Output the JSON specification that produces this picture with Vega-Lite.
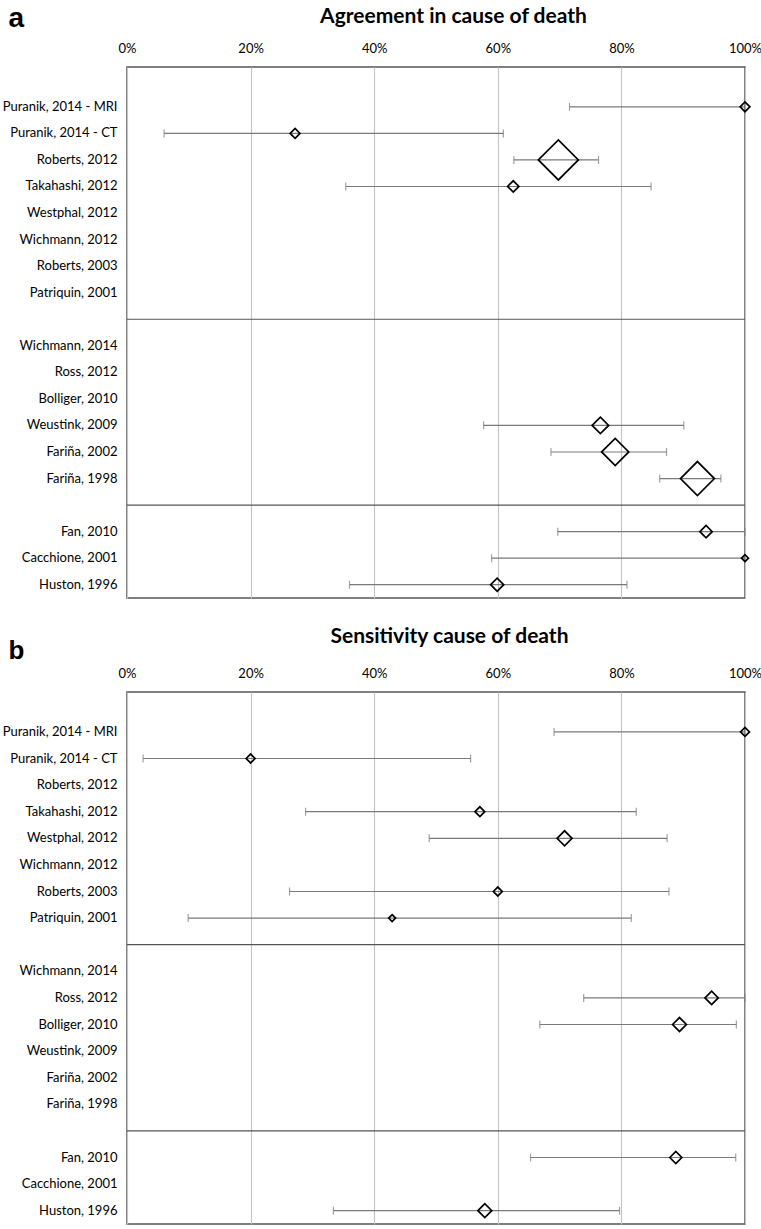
{
  "$schema": "https://vega.github.io/schema/vega-lite/v6.json",
  "padding": {"left": 0, "top": 3, "right": 0, "bottom": 0},
  "spacing": 25,
  "background": "white",
  "config": {
    "font": "Lato",
    "view": {"stroke": "#555", "strokeWidth": 1.5},
    "axis": {"labelFont": "Lato", "labelFontSize": 13, "labelColor": "#000", "domain": false, "ticks": false, "titleColor": "#000"},
    "axisX": {"labelFontSize": 13, "labelFlush": false, "labelPadding": 12, "grid": true, "gridColor": "#c4c4c4", "gridWidth": 1.1, "titleFontSize": 21, "titleFontWeight": "bold", "titleAlign": "center", "titleBaseline": "alphabetic", "labelExpr": "datum.value + '%'"}
  },
  "datasets": {
    "studies": [
      {"panel": "a", "study": "Puranik, 2014 - MRI", "est": 100, "lo": 71.6, "hi": 100, "weight": 6},
      {"panel": "a", "study": "Puranik, 2014 - CT", "est": 27.2, "lo": 6.0, "hi": 60.9, "weight": 6},
      {"panel": "a", "study": "Roberts, 2012", "est": 69.8, "lo": 62.6, "hi": 76.3, "weight": 100},
      {"panel": "a", "study": "Takahashi, 2012", "est": 62.5, "lo": 35.4, "hi": 84.8, "weight": 8},
      {"panel": "a", "study": "Weustink, 2009", "est": 76.6, "lo": 57.7, "hi": 90.1, "weight": 17},
      {"panel": "a", "study": "Fariña, 2002", "est": 79.0, "lo": 68.6, "hi": 87.3, "weight": 46},
      {"panel": "a", "study": "Fariña, 1998", "est": 92.3, "lo": 86.2, "hi": 96.1, "weight": 72},
      {"panel": "a", "study": "Fan, 2010", "est": 93.7, "lo": 69.7, "hi": 100, "weight": 9.5},
      {"panel": "a", "study": "Cacchione, 2001", "est": 100, "lo": 59.0, "hi": 100, "weight": 3},
      {"panel": "a", "study": "Huston, 1996", "est": 59.9, "lo": 36.0, "hi": 80.9, "weight": 10.6},
      {"panel": "b", "study": "Puranik, 2014 - MRI", "est": 100, "lo": 69.1, "hi": 100, "weight": 5},
      {"panel": "b", "study": "Puranik, 2014 - CT", "est": 20.0, "lo": 2.6, "hi": 55.6, "weight": 5},
      {"panel": "b", "study": "Takahashi, 2012", "est": 57.1, "lo": 28.9, "hi": 82.4, "weight": 6},
      {"panel": "b", "study": "Westphal, 2012", "est": 70.8, "lo": 48.9, "hi": 87.4, "weight": 14},
      {"panel": "b", "study": "Roberts, 2003", "est": 60.0, "lo": 26.3, "hi": 87.7, "weight": 5},
      {"panel": "b", "study": "Patriquin, 2001", "est": 42.9, "lo": 9.9, "hi": 81.6, "weight": 3},
      {"panel": "b", "study": "Ross, 2012", "est": 94.6, "lo": 73.9, "hi": 100, "weight": 11},
      {"panel": "b", "study": "Bolliger, 2010", "est": 89.4, "lo": 66.8, "hi": 98.6, "weight": 12},
      {"panel": "b", "study": "Fan, 2010", "est": 88.8, "lo": 65.3, "hi": 98.5, "weight": 9},
      {"panel": "b", "study": "Huston, 1996", "est": 57.9, "lo": 33.4, "hi": 79.7, "weight": 12}
    ],
    "seps": [{"study": "sep1"}, {"study": "sep2"}]
  },
  "vconcat": [
    {
      "width": 618,
      "height": 531,
      "encoding": {
        "y": {
          "field": "study", "type": "nominal",
          "scale": {"domain": ["Puranik, 2014 - MRI", "Puranik, 2014 - CT", "Roberts, 2012", "Takahashi, 2012", "Westphal, 2012", "Wichmann, 2012", "Roberts, 2003", "Patriquin, 2001", "sep1", "Wichmann, 2014", "Ross, 2012", "Bolliger, 2010", "Weustink, 2009", "Fariña, 2002", "Fariña, 1998", "sep2", "Fan, 2010", "Cacchione, 2001", "Huston, 1996"], "paddingInner": 0, "paddingOuter": 0.5, "align": 1},
          "axis": {"title": "a", "titleAngle": 0, "titleX": -119, "titleY": -41, "titleAlign": "left", "titleBaseline": "alphabetic", "titleFont": "Liberation Sans", "titleFontSize": 28, "titleFontWeight": "bold", "labelExpr": "(datum.value == 'sep1' || datum.value == 'sep2') ? '' : datum.value", "labelPadding": 10, "labelLimit": 300, "minExtent": 126, "maxExtent": 126, "grid": false}
        }
      },
      "layer": [
        {
          "data": {"name": "seps"},
          "mark": {"type": "rule", "color": "#555", "strokeWidth": 1.2},
          "encoding": {}
        },
        {
          "data": {"name": "studies"},
          "transform": [{"filter": "datum.panel == 'a'"}],
          "mark": {"type": "rule", "color": "#7a7a7a", "strokeWidth": 1.2},
          "encoding": {
            "x": {"field": "lo", "type": "quantitative", "scale": {"domain": [0, 100], "nice": false},
              "axis": {"orient": "top", "values": [0, 20, 40, 60, 80, 100], "title": "Agreement in cause of death", "titleX": 326, "titleY": -45}},
            "x2": {"field": "hi"}
          }
        },
        {
          "data": {"name": "studies"},
          "transform": [{"filter": "datum.panel == 'a'"}],
          "mark": {"type": "tick", "orient": "vertical", "size": 8, "thickness": 1.2, "color": "#7a7a7a"},
          "encoding": {"x": {"field": "lo", "type": "quantitative", "scale": {"domain": [0, 100], "nice": false},
              "axis": {"orient": "top", "values": [0, 20, 40, 60, 80, 100], "title": "Agreement in cause of death", "titleX": 326, "titleY": -45}}}
        },
        {
          "data": {"name": "studies"},
          "transform": [{"filter": "datum.panel == 'a'"}],
          "mark": {"type": "tick", "orient": "vertical", "size": 8, "thickness": 1.2, "color": "#7a7a7a"},
          "encoding": {"x": {"field": "hi", "type": "quantitative", "scale": {"domain": [0, 100], "nice": false},
              "axis": {"orient": "top", "values": [0, 20, 40, 60, 80, 100], "title": "Agreement in cause of death", "titleX": 326, "titleY": -45}}}
        },
        {
          "data": {"name": "studies"},
          "transform": [{"filter": "datum.panel == 'a'"}],
          "mark": {"type": "point", "shape": "diamond", "filled": false, "stroke": "#000", "strokeWidth": 1.7, "opacity": 1},
          "encoding": {
            "x": {"field": "est", "type": "quantitative", "scale": {"domain": [0, 100], "nice": false},
              "axis": {"orient": "top", "values": [0, 20, 40, 60, 80, 100], "title": "Agreement in cause of death", "titleX": 326, "titleY": -45}},
            "size": {"field": "weight", "type": "quantitative", "scale": {"type": "linear", "domain": [0, 100], "range": [0, 1600]}, "legend": null}
          }
        }
      ]
    },
    {
      "width": 618,
      "height": 532,
      "encoding": {
        "y": {
          "field": "study", "type": "nominal",
          "scale": {"domain": ["Puranik, 2014 - MRI", "Puranik, 2014 - CT", "Roberts, 2012", "Takahashi, 2012", "Westphal, 2012", "Wichmann, 2012", "Roberts, 2003", "Patriquin, 2001", "sep1", "Wichmann, 2014", "Ross, 2012", "Bolliger, 2010", "Weustink, 2009", "Fariña, 2002", "Fariña, 1998", "sep2", "Fan, 2010", "Cacchione, 2001", "Huston, 1996"], "paddingInner": 0, "paddingOuter": 0.5, "align": 1},
          "axis": {"title": "b", "titleAngle": 0, "titleX": -119, "titleY": -34, "titleAlign": "left", "titleBaseline": "alphabetic", "titleFont": "Liberation Sans", "titleFontSize": 26, "titleFontWeight": "bold", "labelExpr": "(datum.value == 'sep1' || datum.value == 'sep2') ? '' : datum.value", "labelPadding": 10, "labelLimit": 300, "minExtent": 126, "maxExtent": 126, "grid": false}
        }
      },
      "layer": [
        {
          "data": {"name": "seps"},
          "mark": {"type": "rule", "color": "#555", "strokeWidth": 1.2},
          "encoding": {}
        },
        {
          "data": {"name": "studies"},
          "transform": [{"filter": "datum.panel == 'b'"}],
          "mark": {"type": "rule", "color": "#7a7a7a", "strokeWidth": 1.2},
          "encoding": {
            "x": {"field": "lo", "type": "quantitative", "scale": {"domain": [0, 100], "nice": false},
              "axis": {"orient": "top", "values": [0, 20, 40, 60, 80, 100], "title": "Sensitivity cause of death", "titleX": 322, "titleY": -50}},
            "x2": {"field": "hi"}
          }
        },
        {
          "data": {"name": "studies"},
          "transform": [{"filter": "datum.panel == 'b'"}],
          "mark": {"type": "tick", "orient": "vertical", "size": 8, "thickness": 1.2, "color": "#7a7a7a"},
          "encoding": {"x": {"field": "lo", "type": "quantitative", "scale": {"domain": [0, 100], "nice": false},
              "axis": {"orient": "top", "values": [0, 20, 40, 60, 80, 100], "title": "Sensitivity cause of death", "titleX": 322, "titleY": -50}}}
        },
        {
          "data": {"name": "studies"},
          "transform": [{"filter": "datum.panel == 'b'"}],
          "mark": {"type": "tick", "orient": "vertical", "size": 8, "thickness": 1.2, "color": "#7a7a7a"},
          "encoding": {"x": {"field": "hi", "type": "quantitative", "scale": {"domain": [0, 100], "nice": false},
              "axis": {"orient": "top", "values": [0, 20, 40, 60, 80, 100], "title": "Sensitivity cause of death", "titleX": 322, "titleY": -50}}}
        },
        {
          "data": {"name": "studies"},
          "transform": [{"filter": "datum.panel == 'b'"}],
          "mark": {"type": "point", "shape": "diamond", "filled": false, "stroke": "#000", "strokeWidth": 1.7, "opacity": 1},
          "encoding": {
            "x": {"field": "est", "type": "quantitative", "scale": {"domain": [0, 100], "nice": false},
              "axis": {"orient": "top", "values": [0, 20, 40, 60, 80, 100], "title": "Sensitivity cause of death", "titleX": 322, "titleY": -50}},
            "size": {"field": "weight", "type": "quantitative", "scale": {"type": "linear", "domain": [0, 100], "range": [0, 1600]}, "legend": null}
          }
        }
      ]
    }
  ]
}
